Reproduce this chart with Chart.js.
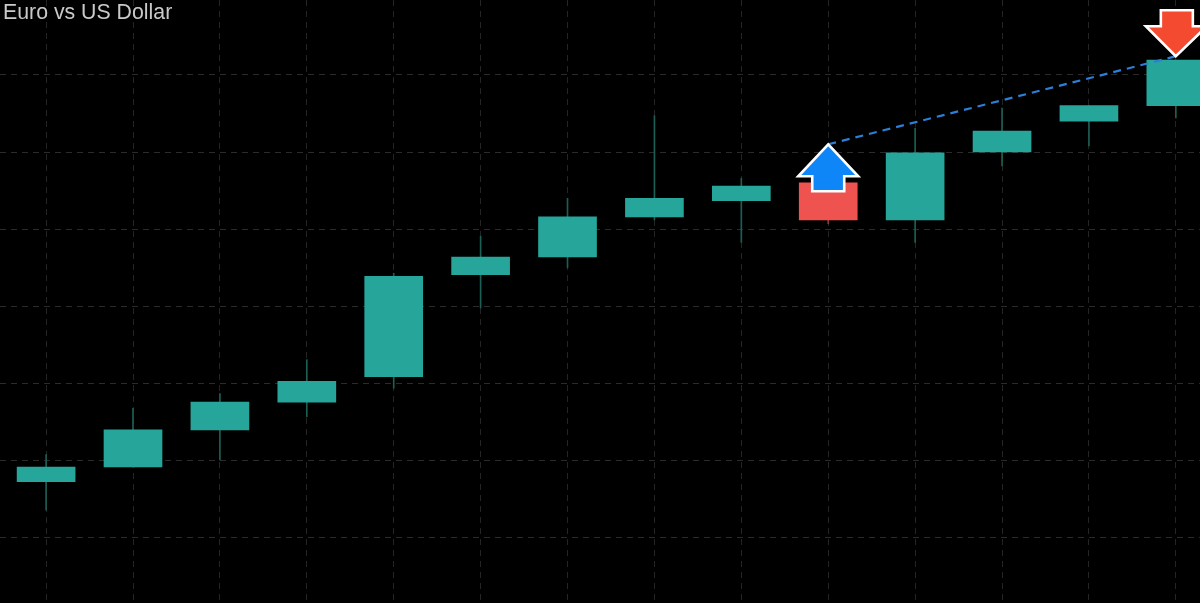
<!DOCTYPE html>
<html>
<head>
<meta charset="utf-8">
<title>Euro vs US Dollar</title>
<script src="https://cdn.jsdelivr.net/npm/chart.js@4/dist/chart.umd.min.js"></script>
<style>
    html, body { margin: 0; padding: 0; background: #000; }
    #wrap { position: relative; width: 1200px; height: 603px; overflow: hidden; }
    #label { position: absolute; left: 3px; top: 0; color: #c9c9c9; font: 21.3px "Liberation Sans", sans-serif; }
</style>
</head>
<body>
<div id="wrap">
    <canvas id="chart" width="1200" height="603"></canvas>
    <div id="label">Euro vs US Dollar</div>
</div>
<script>
const candles = [0, 1, 2, 3, 4, 5, 6, 7, 8, 9, 10, 11, 12, 13];
const opens  = [1.08073, 1.08092, 1.08140, 1.08176, 1.08209, 1.08341, 1.08364, 1.08416, 1.08437, 1.08460, 1.08412, 1.08500, 1.08540, 1.08560];
const closes = [1.08092, 1.08140, 1.08176, 1.08203, 1.08339, 1.08364, 1.08416, 1.08440, 1.08456, 1.08412, 1.08499, 1.08527, 1.08560, 1.08619];
const highs  = [1.08108, 1.08168, 1.08187, 1.08231, 1.08343, 1.08391, 1.08440, 1.08547, 1.08466, 1.08460, 1.08531, 1.08557, 1.08560, 1.08619];
const lows   = [1.08036, 1.08092, 1.08101, 1.08157, 1.08194, 1.08298, 1.08350, 1.08412, 1.08383, 1.08407, 1.08383, 1.08482, 1.08508, 1.08544];

// signal arrows, tip of each arrow sits on these prices
const buyIndex = 9;
const buyPrice = 1.08510;
const sellIndex = 13;
const sellPrice = 1.08624;

const upColor = '#26a69a';
const downColor = '#ef5350';

function barColors() {
    return candles.map((c, i) => closes[i] >= opens[i] ? upColor : downColor);
}

const arrowPlugin = {
    id: 'arrows',
    afterDatasetsDraw(chart) {
        const ctx = chart.ctx;
        const xs = chart.scales.x;
        const ys = chart.scales.y;

        function arrow(x, y, points, fill) {
            ctx.save();
            ctx.beginPath();
            points.forEach((p, i) => {
                if (i === 0) ctx.moveTo(x + p[0], y + p[1]);
                else ctx.lineTo(x + p[0], y + p[1]);
            });
            ctx.closePath();
            ctx.fillStyle = fill;
            ctx.fill();
            ctx.lineWidth = 2.6;
            ctx.lineJoin = 'miter';
            ctx.strokeStyle = '#ffffff';
            ctx.stroke();
            ctx.restore();
        }

        arrow(xs.getPixelForValue(buyIndex), ys.getPixelForValue(buyPrice),
            [[0, 0], [30, 32], [16, 32], [16, 47], [-16, 47], [-16, 32], [-30, 32]], '#0f86f7');
        arrow(xs.getPixelForValue(sellIndex), ys.getPixelForValue(sellPrice),
            [[0, 0], [-30, -30], [-15, -30], [-15, -46], [17, -46], [17, -30], [31, -30]], '#f44a30');
    }
};

new Chart(document.getElementById('chart'), {
    type: 'bar',
    data: {
        datasets: [
            {
                label: 'Signal line',
                type: 'line',
                data: [{ x: buyIndex, y: buyPrice }, { x: sellIndex, y: sellPrice }],
                borderColor: '#2c7fd6',
                borderWidth: 2.2,
                borderDash: [8, 6],
                pointRadius: 0,
                order: 0
            },
            {
                label: 'Body',
                data: candles.map((c, i) => ({ x: c, y: [opens[i], closes[i]] })),
                backgroundColor: barColors(),
                barThickness: 58,
                grouped: false,
                order: 1
            },
            {
                label: 'Wick',
                data: candles.map((c, i) => ({ x: c, y: [lows[i], highs[i]] })),
                backgroundColor: candles.map((c, i) => closes[i] >= opens[i] ? '#1c5f55' : '#8a3a38'),
                barThickness: 1,
                grouped: false,
                order: 2
            }
        ]
    },
    options: {
        responsive: false,
        animation: false,
        layout: { padding: 0 },
        plugins: { legend: { display: false }, title: { display: false }, tooltip: { enabled: false } },
        scales: {
            x: {
                type: 'linear',
                offset: false,
                min: -0.5305,
                max: 13.278,
                border: { display: false, dash: [6, 5] },
                grid: { color: '#242424', drawTicks: false, offset: false },
                ticks: { display: false, stepSize: 1, includeBounds: false }
            },
            y: {
                min: 1.079158,
                max: 1.086969,
                border: { display: false, dash: [6, 5] },
                grid: { color: '#2b2b2b', drawTicks: false },
                ticks: { display: false, stepSize: 0.001, includeBounds: false }
            }
        }
    },
    plugins: [arrowPlugin]
});
</script>
</body>
</html>
